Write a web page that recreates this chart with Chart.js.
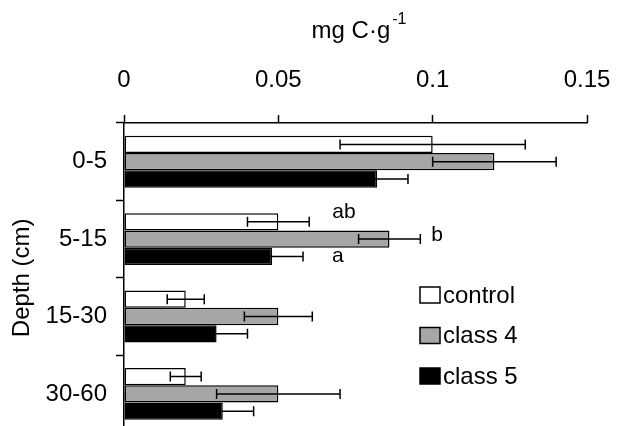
<!DOCTYPE html>
<html lang="en">
<head>
  <meta charset="UTF-8" />
  <title>mg C per g by depth</title>
  <script src="https://cdn.jsdelivr.net/npm/chart.js"></script>
  <style>
    body {
      margin: 0;
      background: #fff;
      overflow: hidden;
    }
    canvas {
      display: block;
    }
  </style>
</head>
<body>

<canvas id="carbonChart" width="625" height="456"></canvas>

<script>
  const depths = ["0-5", "5-15", "15-30", "30-60"];
  const seriesNames = ["control", "class 4", "class 5"];

  const controlVals = [0.100, 0.050, 0.020, 0.020];
  const controlErr  = [0.030, 0.010, 0.006, 0.005];
  const class4Vals  = [0.120, 0.086, 0.050, 0.050];
  const class4Err   = [0.020, 0.010, 0.011, 0.020];
  const class5Vals  = [0.082, 0.048, 0.030, 0.032];
  const class5Err   = [0.010, 0.010, 0.010, 0.010];

  const xTicks = [0, 0.05, 0.1, 0.15];

  // significance letters for the 5-15 group
  const sigDepth = "5-15";
  const sigLetters = ["ab", "b", "a"];

  const FONT = "'Liberation Sans', Arial, sans-serif";
  Chart.defaults.font.family = FONT;
  Chart.defaults.color = "#000";

  const fills = ["#ffffff", "#a6a6a6", "#000000"];
  const errors = [controlErr, class4Err, class5Err];

  const errorBars = {
    id: "errorBars",
    afterDatasetsDraw(chart) {
      const ctx = chart.ctx;
      const x = chart.scales.x;
      ctx.save();
      ctx.strokeStyle = "#000";
      ctx.lineWidth = 1.5;
      chart.data.datasets.forEach((ds, i) => {
        const meta = chart.getDatasetMeta(i);
        meta.data.forEach((bar, j) => {
          const v = ds.data[j], e = errors[i][j];
          const x0 = x.getPixelForValue(v - e);
          const x1 = x.getPixelForValue(v + e);
          const y = bar.y;
          ctx.beginPath();
          ctx.moveTo(x0, y); ctx.lineTo(x1, y);
          ctx.moveTo(x0, y - 5); ctx.lineTo(x0, y + 5);
          ctx.moveTo(x1, y - 5); ctx.lineTo(x1, y + 5);
          ctx.stroke();
        });
      });
      ctx.restore();
    }
  };

  const extras = {
    id: "extras",
    afterDraw(chart) {
      const ctx = chart.ctx;
      const x = chart.scales.x;
      ctx.save();

      // axis title with superscript
      ctx.fillStyle = "#000";
      ctx.textBaseline = "alphabetic";
      ctx.textAlign = "left";
      const main = "mg C\u00b7g";
      ctx.font = "24px " + FONT;
      const wMain = ctx.measureText(main).width;
      ctx.font = "16px " + FONT;
      const wSup = ctx.measureText("-1").width;
      const tx = 359 - (wMain + wSup + 2) / 2;
      ctx.font = "24px " + FONT;
      ctx.fillText(main, tx, 38);
      ctx.font = "16px " + FONT;
      ctx.fillText("-1", tx + wMain + 2, 24);

      // significance letters
      const gi = depths.indexOf(sigDepth);
      const gaps = [23, 11, 29];
      const dy = [-10, -4, 0];
      ctx.font = "21px " + FONT;
      ctx.textBaseline = "middle";
      sigLetters.forEach((t, i) => {
        const bar = chart.getDatasetMeta(i).data[gi];
        const ds = chart.data.datasets[i];
        const xe = x.getPixelForValue(ds.data[gi] + errors[i][gi]);
        ctx.fillText(t, xe + gaps[i], bar.y + dy[i]);
      });

      // legend
      ctx.font = "24px " + FONT;
      ctx.lineWidth = 1.5;
      chart.data.datasets.forEach((ds, i) => {
        const cy = 295 + i * 40.5;
        ctx.fillStyle = ds.backgroundColor;
        ctx.fillRect(420, cy - 8, 20, 16);
        ctx.strokeStyle = "#000";
        ctx.strokeRect(420, cy - 8, 20, 16);
        ctx.fillStyle = "#000";
        ctx.fillText(ds.label, 443, cy + 1);
      });
      ctx.restore();
    }
  };

  const vals = [controlVals, class4Vals, class5Vals];

  new Chart(document.getElementById("carbonChart"), {
    type: "bar",
    data: {
      labels: depths,
      datasets: seriesNames.map((name, i) => ({
        label: name,
        data: vals[i],
        backgroundColor: fills[i],
        borderColor: "#000",
        borderWidth: 1.5,
        borderSkipped: false,
        categoryPercentage: 0.67,
        barPercentage: 1.0
      }))
    },
    options: {
      indexAxis: "y",
      responsive: false,
      animation: false,
      devicePixelRatio: 1,
      layout: { padding: { left: 0, right: 38, top: 0, bottom: 9 } },
      plugins: {
        legend: { display: false },
        tooltip: { enabled: false }
      },
      scales: {
        x: {
          position: "top",
          min: 0,
          max: 0.15,
          afterFit: s => {
            s.height = 123;
            s.paddingLeft = 0;
            s.paddingRight = 0;
          },
          afterBuildTicks: s => { s.ticks = xTicks.map(v => ({ value: v })); },
          ticks: {
            padding: 20,
            font: { size: 24 },
            callback: v => String(+(+v).toFixed(2))
          },
          grid: {
            drawOnChartArea: false,
            drawTicks: true,
            tickLength: 8,
            tickColor: "#000",
            tickWidth: 1.5
          },
          border: { color: "#000", width: 1.5 }
        },
        y: {
          afterFit: s => { s.width = 124; },
          ticks: {
            padding: 9,
            font: { size: 24 }
          },
          grid: {
            offset: true,
            drawOnChartArea: false,
            tickLength: 8,
            tickColor: "#000",
            tickWidth: 1.5
          },
          border: { color: "#000", width: 1.5 },
          title: {
            display: true,
            text: "Depth (cm)",
            font: { size: 24 },
            padding: { top: 8, bottom: 0 }
          }
        }
      }
    },
    plugins: [errorBars, extras]
  });
</script>

</body>
</html>
